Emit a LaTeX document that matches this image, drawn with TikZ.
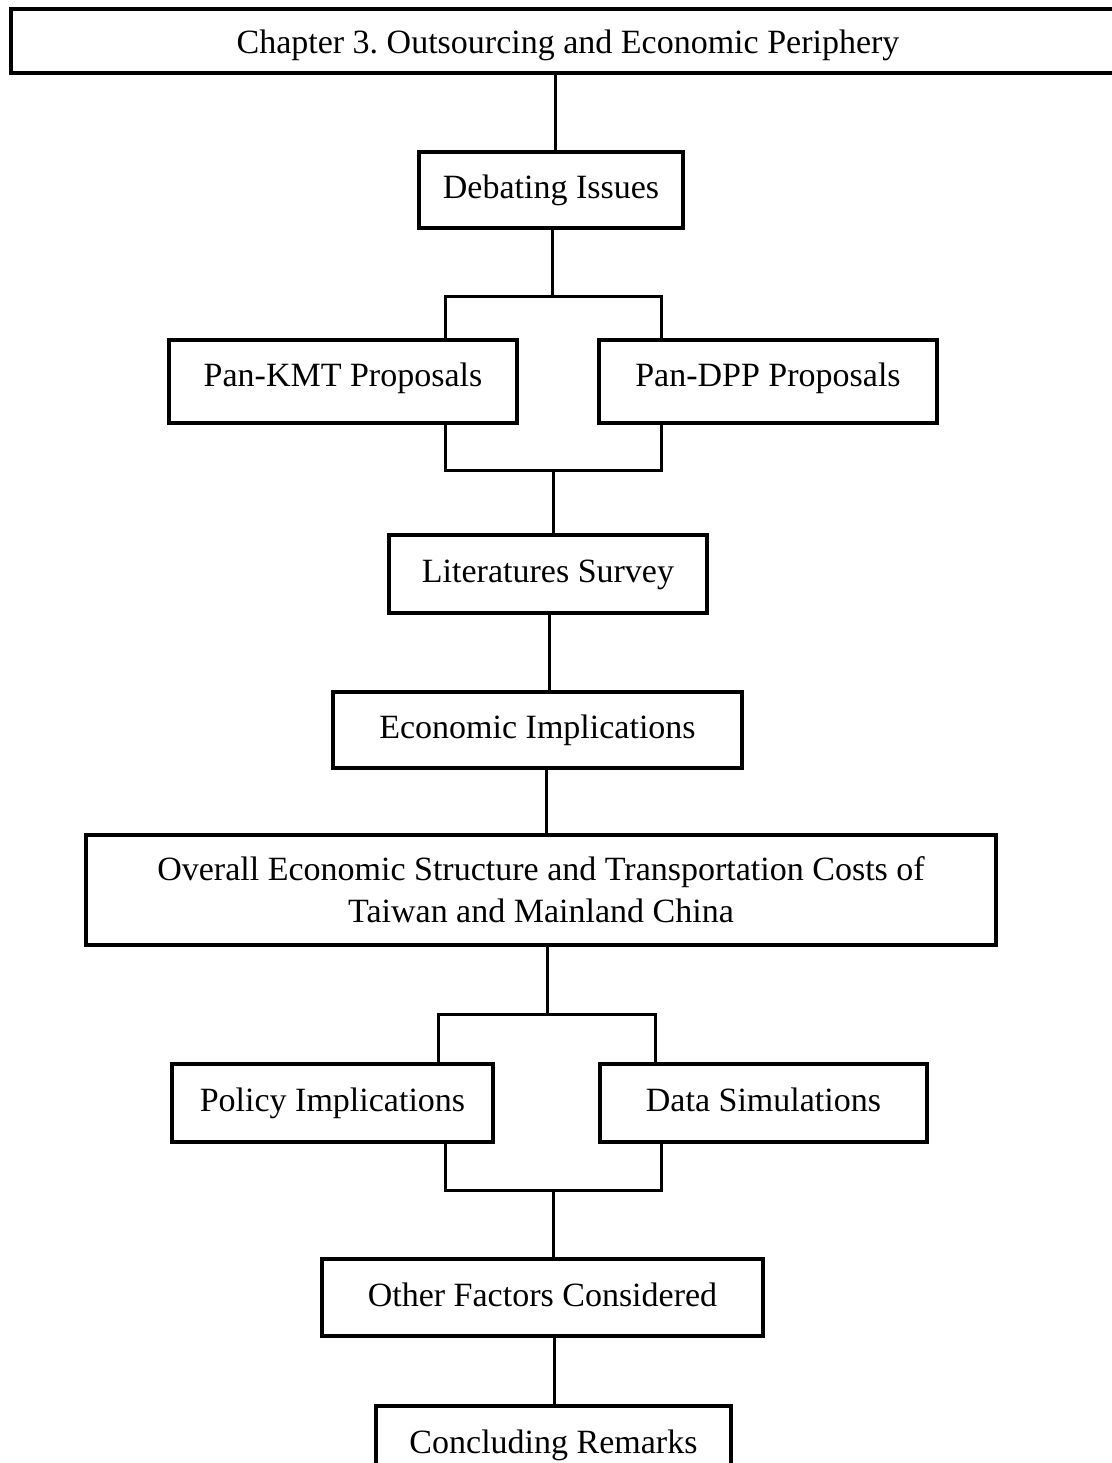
\documentclass[tikz,border=0pt]{standalone}
\usepackage{fontspec}
\setmainfont{Liberation Serif}
\frenchspacing
\usepackage{tikz}
\usetikzlibrary{positioning, calc}

\begin{document}
\begin{tikzpicture}[
        x=0.5pt, y=-0.5pt,
        stage/.style={rectangle, draw=black, fill=white, line width=2pt, inner sep=2pt, align=center, text height=12pt, text depth=3.5pt, font=\fontsize{17}{21}\selectfont},
        link/.style={draw=black, line width=1.5pt}
    ]
        \useasboundingbox (0,0) rectangle (1112,1463);

        % Chapter title
        \node[stage, minimum width=557pt, minimum height=32pt, text height=16pt] (chapter) at (568,41) {Chapter 3. Outsourcing and Economic Periphery};

        % Upper part
        \node[stage, minimum width=132pt, minimum height=38pt] (debate) at (551,190) {Debating Issues};
        \node[stage, minimum width=174pt, minimum height=41.5pt, text height=8pt] (kmt) at (343,381.5) {Pan-KMT Proposals};
        \node[stage, minimum width=169pt, minimum height=41.5pt, text height=8pt] (dpp) at (768,381.5) {Pan-DPP Proposals};
        \node[stage, minimum width=159pt, minimum height=39pt] (survey) at (548,574) {Literatures Survey};
        \node[stage, minimum width=204.5pt, minimum height=38pt] (econ) at (537.5,730) {Economic Implications};
        \node[stage, minimum width=455pt, minimum height=55pt, text height=, text depth=] (overall) at (541,890) {Overall Economic Structure and Transportation Costs of\\Taiwan and Mainland China};

        % Lower part
        \node[stage, minimum width=160.5pt, minimum height=39pt] (policy) at (332.5,1103) {Policy Implications};
        \node[stage, minimum width=163.5pt, minimum height=39pt] (datasim) at (763.5,1103) {Data Simulations};
        \node[stage, minimum width=220.5pt, minimum height=38.5pt] (other) at (542.5,1297.5) {Other Factors Considered};
        \node[stage, minimum width=177.5pt, minimum height=39pt] (concl) at (553.5,1445) {Concluding Remarks};

        % Forks and joins
        \coordinate (fork1) at (552,296);
        \coordinate (fork1l) at (445,296);
        \coordinate (fork1r) at (661,296);
        \coordinate (join1) at (553,470);
        \coordinate (join1l) at (445,470);
        \coordinate (join1r) at (661,470);
        \coordinate (fork2) at (547,1014);
        \coordinate (fork2l) at (438,1014);
        \coordinate (fork2r) at (655,1014);
        \coordinate (join2) at (553,1190);
        \coordinate (join2l) at (445,1190);
        \coordinate (join2r) at (661,1190);

        % Connections
        \draw[link] (chapter.south -| 555,0) -- (debate.north -| 555,0);
        \draw[link] (debate.south -| fork1) -- (fork1);
        \draw[link] (kmt.north -| fork1l) |- (fork1r) -- (dpp.north -| fork1r);
        \draw[link] (kmt.south -| join1l) |- (join1r) -- (dpp.south -| join1r);
        \draw[link] (join1) -- (survey.north -| join1);
        \draw[link] (survey.south -| 549,0) -- (econ.north -| 549,0);
        \draw[link] (econ.south -| 546,0) -- (overall.north -| 546,0);
        \draw[link] (overall.south -| fork2) -- (fork2);
        \draw[link] (policy.north -| fork2l) |- (fork2r) -- (datasim.north -| fork2r);
        \draw[link] (policy.south -| join2l) |- (join2r) -- (datasim.south -| join2r);
        \draw[link] (join2) -- (other.north -| join2);
        \draw[link] (other.south -| 554,0) -- (concl.north -| 554,0);

    \end{tikzpicture}
\end{document}
